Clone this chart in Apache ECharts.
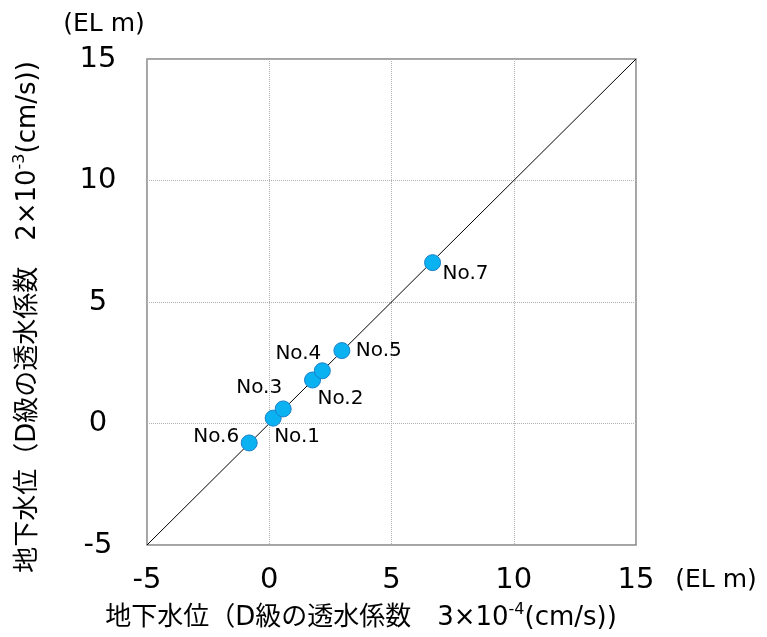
<!DOCTYPE html>
<html>
<head>
<meta charset="utf-8">
<script src="https://cdn.jsdelivr.net/npm/echarts@6/dist/echarts.min.js"></script>
<style>html,body{margin:0;padding:0;background:#fff}#c{width:767px;height:637px}</style>
</head>
<body>
<div id="c"></div>
<script>
// ---- data ----
const pointNames = ['No.1','No.2','No.3','No.4','No.5','No.6','No.7'];
const xValues = [0.16, 1.77, 0.57, 2.17, 2.97, -0.82, 6.68];
const yValues = [0.22, 1.79, 0.60, 2.17, 3.00, -0.80, 6.62];
const lineX = [-5, 15];
const lineY = [-5, 15];
const axisTicks = [-5, 0, 5, 10, 15];
const xTitleParts = ['地下水位（D級の透水係数　3×10', '-4', '(cm/s))'];
const yTitleParts = ['地下水位（D級の透水係数　2×10', '-3', '(cm/s))'];
const unitLabel = '(EL m)';

// label placement (style only)
const labelPlace = {
  'No.1': {align:'left',  offset:[1, 19]},
  'No.2': {align:'left',  offset:[5, 19]},
  'No.3': {align:'right', offset:[-1, -21]},
  'No.4': {align:'right', offset:[-1, -17]},
  'No.5': {align:'left',  offset:[14, 0]},
  'No.6': {align:'right', offset:[-10, -6]},
  'No.7': {align:'left',  offset:[10, 11]}
};

const latin = '"DejaVu Sans", "Noto Sans CJK JP", sans-serif';
const chart = echarts.init(document.getElementById('c'));

const pts = pointNames.map((n, i) => ({
  name: n,
  value: [xValues[i], yValues[i]],
  label: {
    show: true, position: 'inside', formatter: n,
    align: labelPlace[n].align, verticalAlign: 'middle',
    offset: labelPlace[n].offset,
    color: '#000', fontSize: 20, fontFamily: latin
  }
}));

function richTitle(parts) {
  return '{a|' + parts[0] + '}{s|' + parts[1] + '}{a|' + parts[2] + '}';
}
const richStyle = {
  a: {fontSize: 26, fontFamily: latin, fill: '#000', color: '#000', lineHeight: 32},
  s: {fontSize: 16, fontFamily: latin, fill: '#000', color: '#000', verticalAlign: 'top', lineHeight: 32, padding: [0,0,11,0]}
};

chart.setOption({
  animation: false,
  grid: {left: 147, right: 131, top: 59, bottom: 92, show: true, borderColor: '#858585', borderWidth: 1.5, backgroundColor: 'transparent'},
  xAxis: {
    type: 'value', min: axisTicks[0], max: axisTicks[axisTicks.length-1], interval: 5,
    axisLine: {show: false}, axisTick: {show: false},
    splitLine: {show: true, lineStyle: {color: '#b0b0b0', type: [1, 1], width: 1}},
    axisLabel: {fontSize: 29, color: '#000', fontFamily: latin, margin: 21}
  },
  yAxis: {
    type: 'value', min: axisTicks[0], max: axisTicks[axisTicks.length-1], interval: 5,
    axisLine: {show: false}, axisTick: {show: false},
    splitLine: {show: true, lineStyle: {color: '#b0b0b0', type: [1, 1], width: 1}},
    axisLabel: {fontSize: 29, color: '#000', fontFamily: latin, margin: 49, align: 'center'}
  },
  graphic: [
    {type: 'text', x: 104, y: 24, style: {text: unitLabel, fontSize: 25, fontFamily: latin, fill: '#000', align: 'center', verticalAlign: 'middle'}},
    {type: 'text', x: 716, y: 580, style: {text: unitLabel, fontSize: 25, fontFamily: latin, fill: '#000', align: 'center', verticalAlign: 'middle'}},
    {type: 'text', x: 361, y: 618, style: {text: richTitle(xTitleParts), rich: richStyle, align: 'center', verticalAlign: 'middle', fill: '#000'}},
    {type: 'text', x: 28, y: 317, rotation: Math.PI/2, style: {text: richTitle(yTitleParts), rich: richStyle, align: 'center', verticalAlign: 'middle', fill: '#000'}}
  ],
  series: [
    {type: 'line', data: lineX.map((v, i) => [v, lineY[i]]), symbol: 'none', lineStyle: {color: '#000', width: 1}, silent: true, z: 2},
    {type: 'scatter', data: pts, symbolSize: 16, itemStyle: {color: '#0AB2F2', borderColor: '#1a80c8', borderWidth: 1, opacity: 1}, z: 3}
  ]
});
</script>
</body>
</html>
